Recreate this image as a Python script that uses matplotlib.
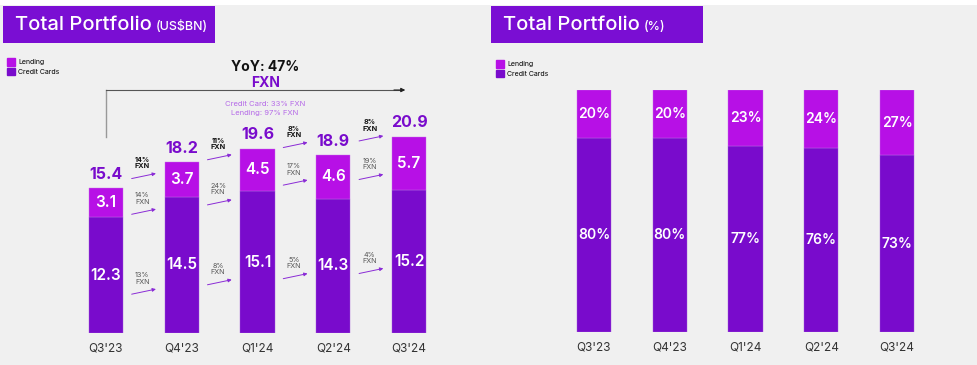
import matplotlib
matplotlib.use('Agg')
import numpy as np
import matplotlib.pyplot as plt
import matplotlib.patches as mpatches

plt.rcParams['font.family'] = ['Inter', 'DejaVu Sans']

# data
quarters = ["Q3'23", "Q4'23", "Q1'24", "Q2'24", "Q3'24"]
credit_cards = [12.3, 14.5, 15.1, 14.3, 15.2]
lending = [3.1, 3.7, 4.5, 4.6, 5.7]
totals = [15.4, 18.2, 19.6, 18.9, 20.9]
credit_pct = [80, 80, 77, 76, 73]
lending_pct = [20, 20, 23, 24, 27]
# growth labels between consecutive quarters (total, lending, credit cards)
growth_total = ['14%', '11%', '8%', '8%']
growth_lending = ['14%', '24%', '17%', '19%']
growth_credit = ['13%', '8%', '5%', '4%']

C_LEND = '#B710E6'
C_CC = '#790BCC'
C_TITLE = '#7A0ED3'
BG = '#F0F0F0'
W, H = 977, 365

fig = plt.figure(figsize=(W / 100, H / 100), dpi=100, facecolor=BG)
# white strip at the top
fig.patches.append(mpatches.Rectangle((0, 1 - 5 / H), 1, 5 / H, transform=fig.transFigure,
                                      facecolor='white', edgecolor='none', zorder=0))


def px_axes(left, bottom_px, width, height):
    return fig.add_axes([left / W, (H - bottom_px) / H, width / W, height / H])


def title_box(x0, text, unit):
    fig.patches.append(mpatches.Rectangle((x0 / W, 1 - 43 / H), 212 / W, 37 / H,
                                          transform=fig.transFigure, facecolor=C_TITLE,
                                          edgecolor='none', zorder=1))
    t = fig.text((x0 + 12) / W, 1 - 25 / H, text, color='white', fontsize=14.5,
                 fontweight='medium', va='center', ha='left', zorder=2)
    fig.canvas.draw()
    bb = t.get_window_extent()
    fig.text(bb.x1 / W + 4 / W, 1 - 26.5 / H, unit, color='white', fontsize=9,
             fontweight='medium', va='center', ha='left', zorder=2)


def legend(x0, y0):
    h = [mpatches.Patch(color=C_LEND, label='Lending'),
         mpatches.Patch(color=C_CC, label='Credit Cards')]
    fig.legend(handles=h, loc='upper left', bbox_to_anchor=(x0 / W, 1 - y0 / H),
               frameon=False, fontsize=5, handlelength=1.1, handleheight=1.3,
               handletextpad=0.5, labelspacing=0.3, borderaxespad=0, borderpad=0)


x = np.arange(len(quarters))

# ---------------- left chart: US$BN
ax = px_axes(68, 333, 379, 282)
ax.set_facecolor('none')
ax.bar(x, credit_cards, width=0.45, color=C_CC, edgecolor='#A45BDB', linewidth=0.3)
ax.bar(x, lending, bottom=credit_cards, width=0.45, color=C_LEND, edgecolor='#C874EA', linewidth=0.3)
ax.set_xlim(-0.5, 4.5)
ax.set_ylim(0, 30)
for i in x:
    ax.text(i, credit_cards[i] / 2, f'{credit_cards[i]:.1f}', color='white', fontsize=11,
            fontweight='semibold', ha='center', va='center')
    ax.text(i, credit_cards[i] + lending[i] / 2, f'{lending[i]:.1f}', color='white', fontsize=11,
            fontweight='semibold', ha='center', va='center')
    ax.annotate(f'{totals[i]:.1f}', (i, totals[i]), xytext=(0, 10), textcoords='offset points',
                color=C_CC, fontsize=11.5, fontweight='bold', ha='center', va='center')

# small growth arrows, y positions of arrows (data units) per gap
top_y = [16.7, 18.7, 20.0, 20.7]
mid_y = [12.9, 13.9, 16.0, 16.6]
low_y = [4.4, 5.4, 6.05, 6.6]
for g in range(4):
    xc = g + 0.5
    for yy, lab, bold in [(top_y[g], growth_total[g], True),
                          (mid_y[g], growth_lending[g], False),
                          (low_y[g], growth_credit[g], False)]:
        ax.annotate('', xy=(xc + 0.16, yy + 0.27), xytext=(xc - 0.16, yy - 0.27),
                    arrowprops=dict(arrowstyle='-|>', color='#8A2BD6', lw=0.7,
                                    mutation_scale=5, shrinkA=0, shrinkB=0))
        ax.text(xc - 0.02, yy + 1.4, lab + '\nFXN', fontsize=5.2, ha='center', va='center',
                color='#111111' if bold else '#555555',
                fontweight='bold' if bold else 'normal', linespacing=1.1)

# YoY bracket
ax.plot([0, 0], [20.85, 25.85], color='#999999', lw=1.0, clip_on=False)
ax.plot([0, 3.9], [25.85, 25.85], color='#555555', lw=0.8, clip_on=False)
ax.annotate('', xy=(3.95, 25.85), xytext=(3.8, 25.85),
            arrowprops=dict(arrowstyle='-|>', color='#222222', lw=0.8, mutation_scale=6,
                            shrinkA=0, shrinkB=0), annotation_clip=False)
ax.text(2.1, 28.3, 'YoY: 47%', fontsize=10, fontweight='bold', ha='center', va='center',
        color='#111111', clip_on=False)
ax.text(2.1, 26.55, 'FXN', fontsize=10, fontweight='bold', ha='center', va='center',
        color=C_CC, clip_on=False)
ax.text(2.1, 24.35, 'Credit Card: 33% FXN', fontsize=5.5, ha='center', va='center',
        color='#B56AE8')
ax.text(2.1, 23.4, 'Lending: 97% FXN', fontsize=5.5, ha='center', va='center',
        color='#B56AE8')

ax.set_xticks(x, quarters)
ax.tick_params(axis='x', length=0, pad=7, labelsize=8.5, labelcolor='#333333')
ax.set_yticks([])
for s in ax.spines.values():
    s.set_visible(False)

# ---------------- right chart: %
ax2 = px_axes(556, 332, 379, 242)
ax2.set_facecolor('none')
ax2.bar(x, credit_pct, width=0.45, color=C_CC, edgecolor='#A45BDB', linewidth=0.3)
ax2.bar(x, lending_pct, bottom=credit_pct, width=0.45, color=C_LEND, edgecolor='#C874EA', linewidth=0.3)
ax2.set_xlim(-0.5, 4.5)
ax2.set_ylim(0, 100)
for i in x:
    ax2.text(i, credit_pct[i] / 2, f'{credit_pct[i]}%', color='white', fontsize=10,
             fontweight='semibold', ha='center', va='center')
    ax2.text(i, credit_pct[i] + lending_pct[i] / 2, f'{lending_pct[i]}%', color='white',
             fontsize=10, fontweight='semibold', ha='center', va='center')
ax2.set_xticks(x, quarters)
ax2.tick_params(axis='x', length=0, pad=7, labelsize=8.5, labelcolor='#333333')
ax2.set_yticks([])
for s in ax2.spines.values():
    s.set_visible(False)

title_box(3, 'Total Portfolio', '(US$BN)')
title_box(491, 'Total Portfolio', '(%)')
legend(7, 58)
legend(496, 60)

fig.savefig('out.png', dpi=100, facecolor=BG)
